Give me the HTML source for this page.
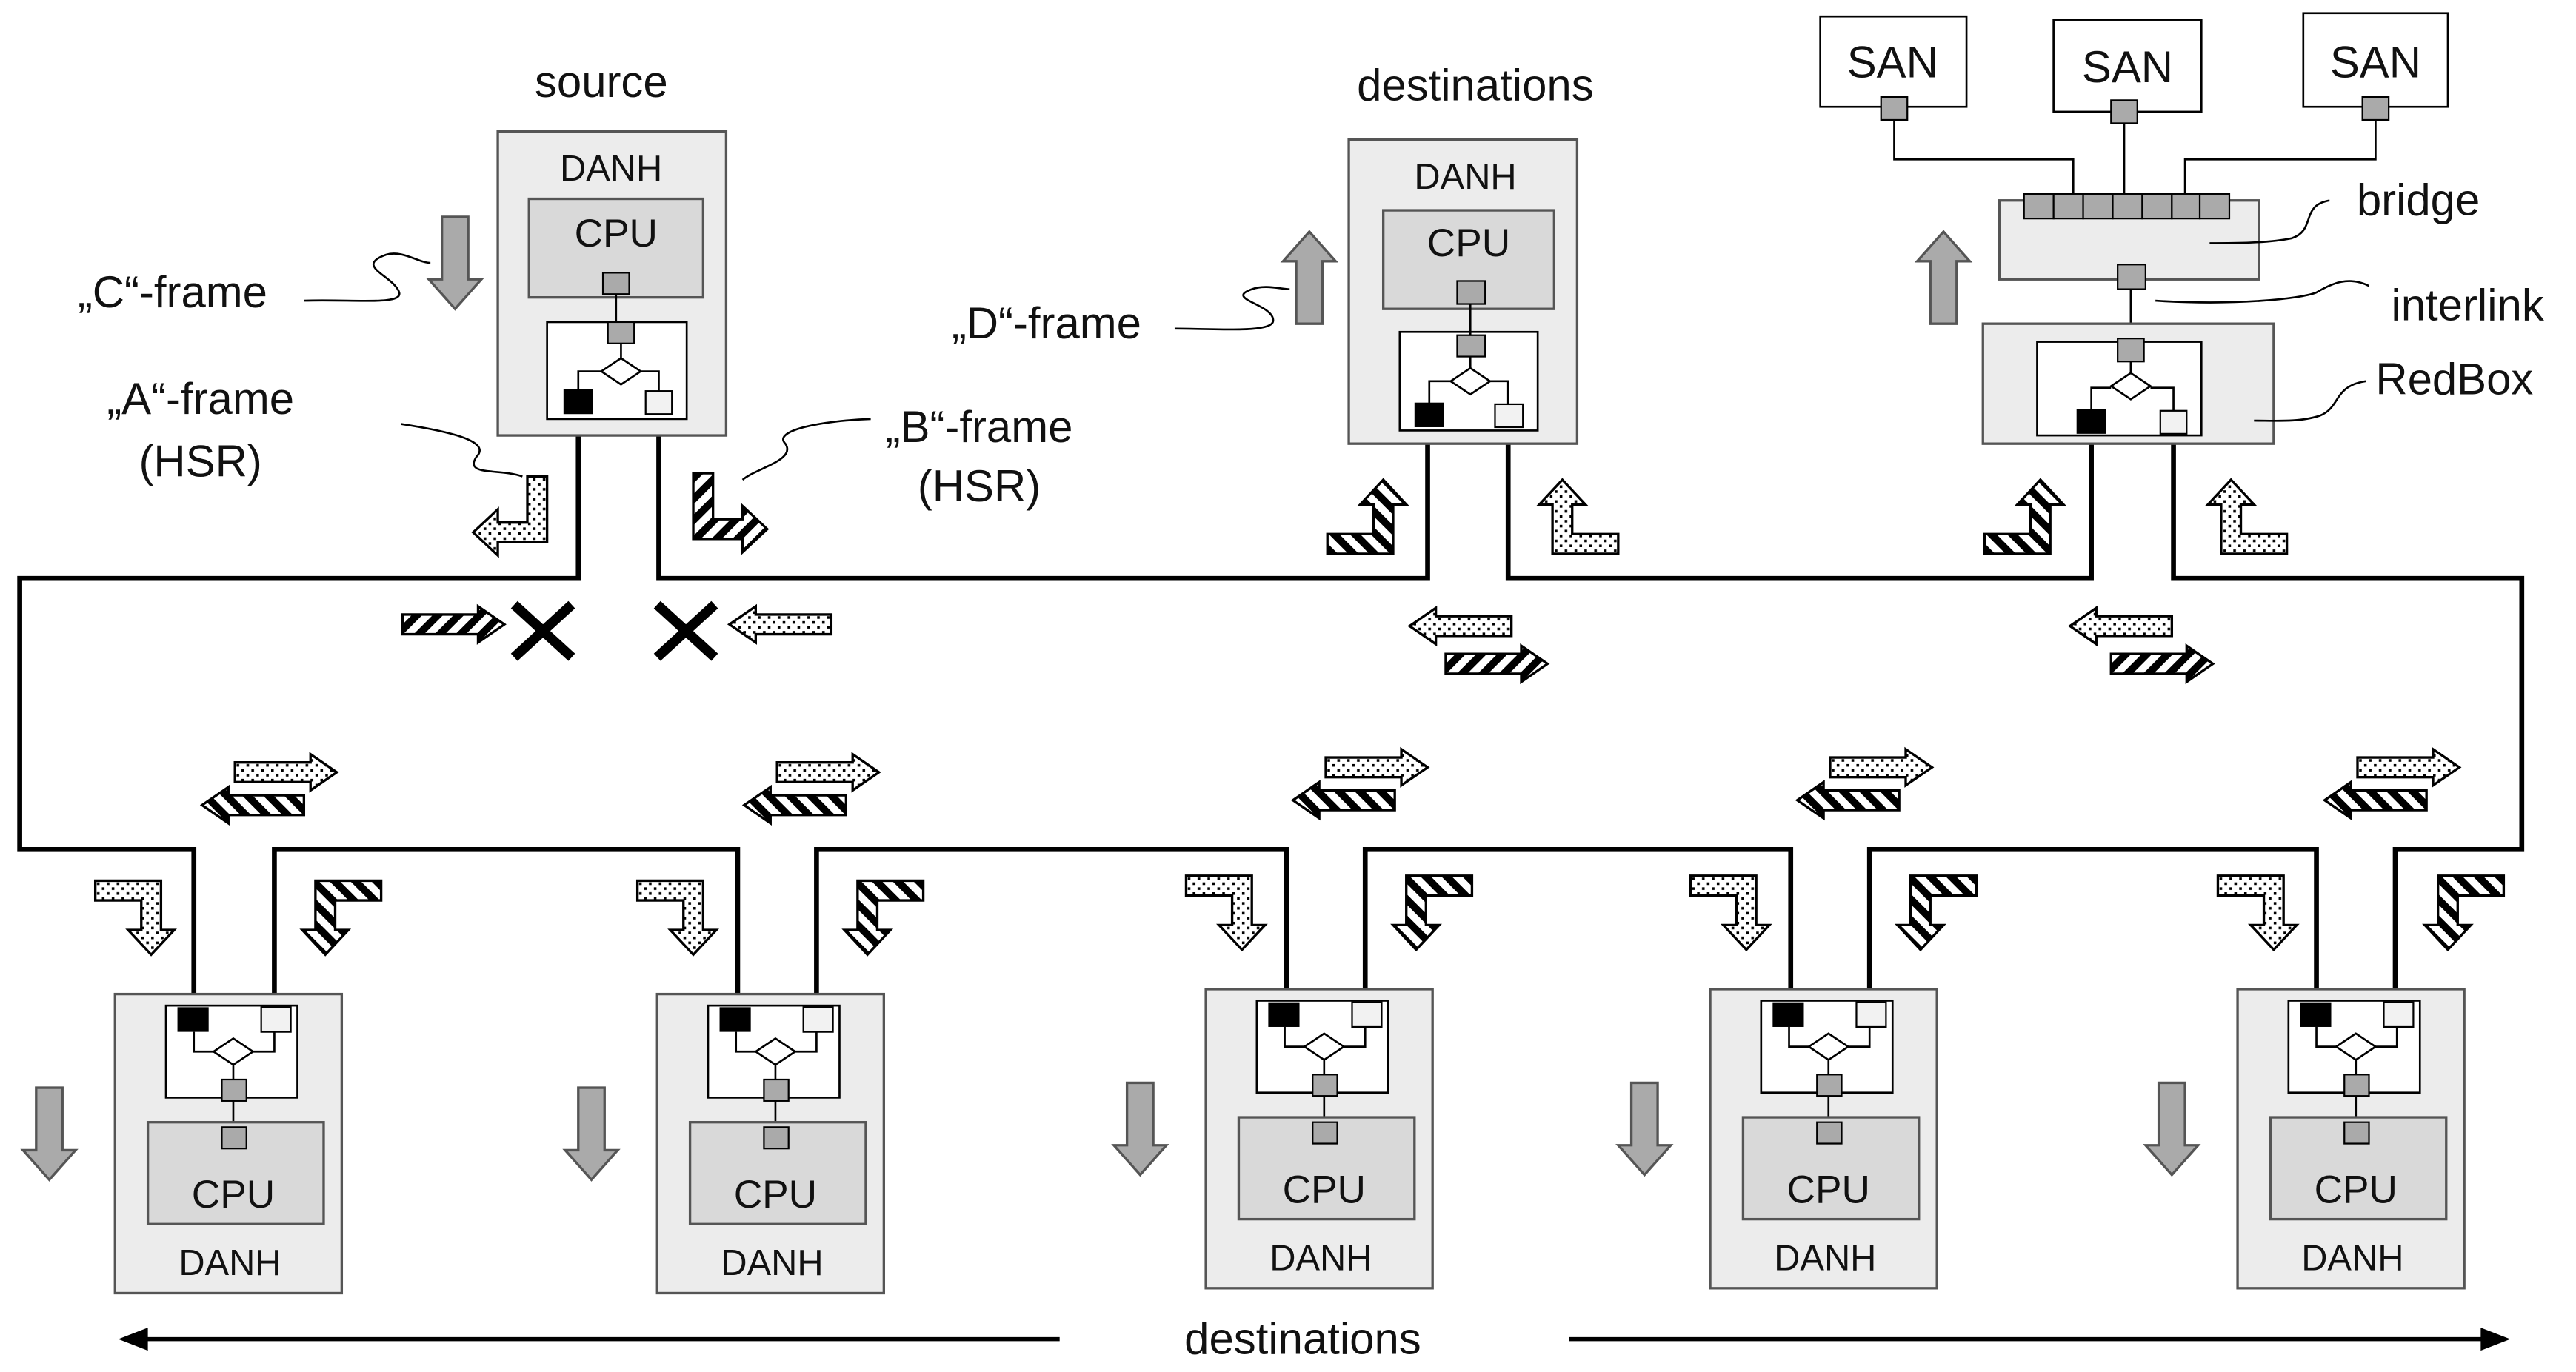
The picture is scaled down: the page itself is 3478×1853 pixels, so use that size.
<!DOCTYPE html>
<html><head><meta charset="utf-8"><style>html,body{margin:0;padding:0;background:#fff}svg{display:block}text{font-family:"Liberation Sans",sans-serif;fill:#111}</style></head>
<body>
<svg width="3478" height="1853" viewBox="0 0 1568 835" preserveAspectRatio="none" xmlns="http://www.w3.org/2000/svg">
<defs>
<pattern id="dot" width="6" height="6" patternUnits="userSpaceOnUse"><rect width="6" height="6" fill="#fff"/><rect x="1" y="1" width="1.6" height="1.6" fill="#000"/><rect x="4" y="4" width="1.6" height="1.6" fill="#000"/></pattern>
<pattern id="hat" width="9" height="9" patternUnits="userSpaceOnUse" patternTransform="rotate(45)"><rect width="9" height="9" fill="#fff"/><rect width="4.5" height="9" fill="#000"/></pattern>
<path id="ha" d="M0,-6 H46 V-11 L62,0 L46,11 V6 H0 Z" stroke="#000" stroke-width="1.5"/>
<path id="la" d="M0,0 H40 V30 H48 L34,45 L20,30 H28 V12 H0 Z" stroke="#000" stroke-width="1.5"/>
<path id="ga" d="M-8,0 H8 V38 H16 L0,56 L-16,38 H-8 Z" fill="#aaa" stroke="#555" stroke-width="1.5"/>
</defs>
<g fill="none" stroke="#000" stroke-width="3">
<polyline points="352,250 352,352 12,352 12,517 118,517 118,615"/>
<polyline points="167,615 167,517 449,517 449,615"/>
<polyline points="497,615 497,517 783,517 783,615"/>
<polyline points="831,615 831,517 1090,517 1090,615"/>
<polyline points="1138,615 1138,517 1410,517 1410,615"/>
<polyline points="1458,615 1458,517 1535,517 1535,352 1323,352 1323,258"/>
<polyline points="401,250 401,352 869,352 869,252"/>
<polyline points="918,252 918,352 1273,352 1273,258"/>
</g>
<g id="bn">
<rect x="70" y="605" width="138" height="182" fill="#ececec" stroke="#555" stroke-width="1.5"/>
<rect x="101" y="612" width="80" height="56" fill="#fff" stroke="#000" stroke-width="1.2"/>
<g stroke="#000" stroke-width="1.2" fill="none"><path d="M118,628 V640 H132 M167,628 V640 H152 M142,648 V690"/></g>
<polygon points="142,632 154,640 142,648 130,640" fill="#fff" stroke="#000" stroke-width="1.2"/>
<rect x="108" y="613" width="19" height="15" fill="#000"/>
<rect x="159" y="613" width="18" height="15" fill="#f2f2f2" stroke="#000"/>
<rect x="135" y="657" width="15" height="13" fill="#aaa" stroke="#000"/>
<rect x="90" y="683" width="107" height="62" fill="#d9d9d9" stroke="#555" stroke-width="1.5"/>
<rect x="135" y="686" width="15" height="13" fill="#aaa" stroke="#000"/>
<text x="142" y="735" font-size="24" text-anchor="middle">CPU</text>
<text x="140" y="776" font-size="22" text-anchor="middle">DANH</text>
<use href="#ga" x="30" y="662"/>
<use href="#ha" x="143" y="470" fill="url(#dot)"/>
<use href="#ha" transform="translate(185,490) scale(-1,1)" fill="url(#hat)"/>
<use href="#la" x="58" y="536" fill="url(#dot)"/>
<use href="#la" transform="translate(232,536) scale(-1,1)" fill="url(#hat)"/>
</g>
<use href="#bn" x="330"/>
<use href="#bn" x="664" y="-3"/>
<use href="#bn" x="971" y="-3"/>
<use href="#bn" x="1292" y="-3"/>
<rect x="303" y="80" width="139" height="185" fill="#ececec" stroke="#555" stroke-width="1.5"/>
<text x="372" y="110" font-size="22" text-anchor="middle">DANH</text>
<rect x="322" y="121" width="106" height="60" fill="#d9d9d9" stroke="#555" stroke-width="1.5"/>
<text x="375" y="150" font-size="24" text-anchor="middle">CPU</text>
<rect x="333" y="196" width="85" height="59" fill="#fff" stroke="#000" stroke-width="1.2"/>
<g stroke="#000" stroke-width="1.2" fill="none"><path d="M375,172 V196 M378,203 V218 M352,244 V226 H366 M401,244 V226 H390"/></g>
<rect x="367" y="166" width="16" height="13" fill="#aaa" stroke="#000"/>
<rect x="370" y="196" width="16" height="13" fill="#aaa" stroke="#000"/>
<polygon points="378,218 390,226 378,234 366,226" fill="#fff" stroke="#000" stroke-width="1.2"/>
<rect x="343" y="237" width="18" height="15" fill="#000"/>
<rect x="393" y="238" width="16" height="14" fill="#f2f2f2" stroke="#000"/>
<rect x="821" y="85" width="139" height="185" fill="#ececec" stroke="#555" stroke-width="1.5"/>
<text x="892" y="115" font-size="22" text-anchor="middle">DANH</text>
<rect x="842" y="128" width="104" height="60" fill="#d9d9d9" stroke="#555" stroke-width="1.5"/>
<text x="894" y="156" font-size="24" text-anchor="middle">CPU</text>
<rect x="852" y="202" width="84" height="60" fill="#fff" stroke="#000" stroke-width="1.2"/>
<g stroke="#000" stroke-width="1.2" fill="none"><path d="M895,178 V204 M895,210 V224 M870,252 V232 H883 M918,252 V232 H907"/></g>
<rect x="887" y="171" width="17" height="14" fill="#aaa" stroke="#000"/>
<rect x="887" y="204" width="17" height="13" fill="#aaa" stroke="#000"/>
<polygon points="895,224 907,232 895,240 883,232" fill="#fff" stroke="#000" stroke-width="1.2"/>
<rect x="861" y="245" width="18" height="15" fill="#000"/>
<rect x="910" y="246" width="17" height="14" fill="#f2f2f2" stroke="#000"/>
<g stroke="#000" stroke-width="1.2" fill="none"><path d="M1153,66 V97 H1262 V118 M1293,68 V118 M1446,66 V97 H1330 V118 M1297,170 V206"/></g>
<rect x="1108" y="10" width="89" height="55" fill="#fff" stroke="#000" stroke-width="1.2"/>
<rect x="1250" y="12" width="90" height="56" fill="#fff" stroke="#000" stroke-width="1.2"/>
<rect x="1402" y="8" width="88" height="57" fill="#fff" stroke="#000" stroke-width="1.2"/>
<text x="1152" y="47" font-size="27" text-anchor="middle">SAN</text>
<text x="1295" y="50" font-size="27" text-anchor="middle">SAN</text>
<text x="1446" y="47" font-size="27" text-anchor="middle">SAN</text>
<rect x="1145" y="59" width="16" height="14" fill="#aaa" stroke="#000"/>
<rect x="1285" y="61" width="16" height="14" fill="#aaa" stroke="#000"/>
<rect x="1438" y="59" width="16" height="14" fill="#aaa" stroke="#000"/>
<rect x="1217" y="122" width="158" height="48" fill="#ececec" stroke="#555" stroke-width="1.5"/>
<g fill="#aaa" stroke="#000"><rect x="1232" y="118" width="18" height="15"/><rect x="1250" y="118" width="18" height="15"/><rect x="1268" y="118" width="18" height="15"/><rect x="1286" y="118" width="18" height="15"/><rect x="1304" y="118" width="18" height="15"/><rect x="1322" y="118" width="17" height="15"/><rect x="1339" y="118" width="18" height="15"/></g>
<rect x="1289" y="161" width="17" height="15" fill="#aaa" stroke="#000"/>
<rect x="1207" y="197" width="177" height="73" fill="#ececec" stroke="#555" stroke-width="1.5"/>
<rect x="1240" y="208" width="100" height="57" fill="#fff" stroke="#000" stroke-width="1.2"/>
<g stroke="#000" stroke-width="1.2" fill="none"><path d="M1297,213 V228 M1273,256 V236 H1285 M1323,257 V236 H1309"/></g>
<rect x="1289" y="206" width="16" height="14" fill="#aaa" stroke="#000"/>
<polygon points="1297,227 1309,235 1297,243 1285,235" fill="#fff" stroke="#000" stroke-width="1.2"/>
<rect x="1264" y="249" width="18" height="15" fill="#000"/>
<rect x="1315" y="250" width="16" height="14" fill="#f2f2f2" stroke="#000"/>
<use href="#ga" x="277" y="132"/>
<use href="#ga" transform="translate(797,197) scale(1,-1)"/>
<use href="#ga" transform="translate(1183,197) scale(1,-1)"/>
<use href="#la" transform="translate(333,290) rotate(90)" fill="url(#dot)"/>
<use href="#la" transform="translate(422,288) scale(-1,1) rotate(90)" fill="url(#hat)"/>
<use href="#la" transform="translate(808,337) scale(1,-1)" fill="url(#hat)"/>
<use href="#la" transform="translate(985,337) scale(-1,-1)" fill="url(#dot)"/>
<use href="#la" transform="translate(1208,337) scale(1,-1)" fill="url(#hat)"/>
<use href="#la" transform="translate(1392,337) scale(-1,-1)" fill="url(#dot)"/>
<use href="#ha" x="245" y="380" fill="url(#hat)"/>
<use href="#ha" transform="translate(506,380) scale(-1,1)" fill="url(#dot)"/>
<use href="#ha" transform="translate(920,381) scale(-1,1)" fill="url(#dot)"/>
<use href="#ha" x="880" y="404" fill="url(#hat)"/>
<use href="#ha" transform="translate(1322,381) scale(-1,1)" fill="url(#dot)"/>
<use href="#ha" x="1285" y="404" fill="url(#hat)"/>
<g stroke="#000" stroke-width="6"><path d="M313,368 L348,400 M348,368 L313,400 M400,368 L435,400 M435,368 L400,400"/></g>
<g stroke="#000" stroke-width="1.2" fill="none">
<path d="M185,183 C215,182 245,186 243,178 C240,168 215,162 235,155 C245,152 255,160 262,160"/>
<path d="M244,258 C270,262 300,268 290,278 C282,290 305,285 318,290"/>
<path d="M530,255 C500,256 470,262 478,270 C485,280 460,285 452,292"/>
<path d="M715,200 C740,200 775,203 775,195 C775,185 745,182 762,176 C770,173 780,176 785,176"/>
<path d="M1418,122 C1400,125 1410,140 1395,145 C1380,148 1360,148 1345,148"/>
<path d="M1312,183 C1360,186 1400,182 1410,178 C1420,172 1430,168 1442,174"/>
<path d="M1440,232 C1420,235 1425,248 1412,253 C1400,257 1385,256 1372,256"/>
</g>
<g font-size="27">
<text x="366" y="59" text-anchor="middle">source</text>
<text x="898" y="61" text-anchor="middle">destinations</text>
<text x="105" y="187" text-anchor="middle">„C“-frame</text>
<text x="122" y="252" text-anchor="middle">„A“-frame</text>
<text x="122" y="290" text-anchor="middle">(HSR)</text>
<text x="596" y="269" text-anchor="middle">„B“-frame</text>
<text x="596" y="305" text-anchor="middle">(HSR)</text>
<text x="637" y="206" text-anchor="middle">„D“-frame</text>
<text x="1472" y="131" text-anchor="middle">bridge</text>
<text x="1502" y="195" text-anchor="middle">interlink</text>
<text x="1494" y="240" text-anchor="middle">RedBox</text>
<text x="793" y="824" text-anchor="middle">destinations</text>
</g>
<g stroke="#000" stroke-width="2.5"><path d="M645,815 H85 M955,815 H1515"/></g>
<polygon points="72,815 90,808 90,822" fill="#000"/>
<polygon points="1528,815 1510,808 1510,822" fill="#000"/>
</svg>
</body></html>
